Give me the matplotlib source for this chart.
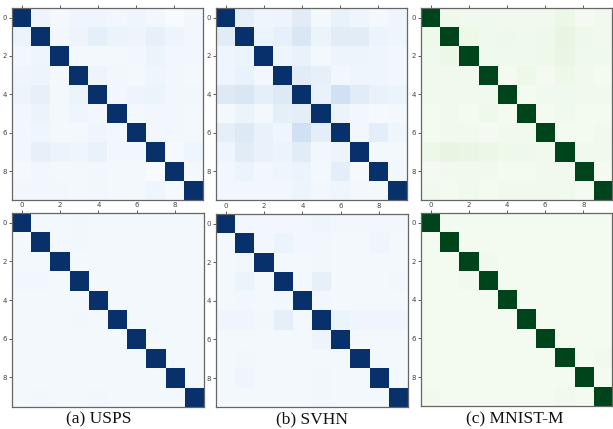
import numpy as np
import matplotlib
matplotlib.use("Agg")
import matplotlib.pyplot as plt

W, H = 613, 429

classes = list(range(10))
tick_labels = ["0", "2", "4", "6", "8"]
captions = ["(a) USPS", "(b) SVHN", "(c) MNIST-M"]

# colour intensities (0..1 on colormap); diagonal = 1
usps_before = [
    [1.00, 0.05, 0.02, 0.04, 0.04, 0.03, 0.04, 0.03, 0.00, 0.03],
    [0.06, 1.00, 0.03, 0.05, 0.09, 0.06, 0.05, 0.08, 0.05, 0.03],
    [0.03, 0.04, 1.00, 0.02, 0.02, 0.02, 0.03, 0.06, 0.03, 0.03],
    [0.04, 0.05, 0.02, 1.00, 0.05, 0.03, 0.02, 0.04, 0.03, 0.02],
    [0.05, 0.08, 0.02, 0.06, 1.00, 0.03, 0.05, 0.06, 0.03, 0.03],
    [0.03, 0.06, 0.02, 0.04, 0.03, 1.00, 0.02, 0.03, 0.03, 0.02],
    [0.03, 0.04, 0.02, 0.02, 0.04, 0.03, 1.00, 0.03, 0.03, 0.02],
    [0.03, 0.08, 0.06, 0.04, 0.07, 0.03, 0.03, 1.00, 0.01, 0.04],
    [0.01, 0.03, 0.02, 0.02, 0.03, 0.02, 0.02, 0.00, 1.00, 0.02],
    [0.03, 0.03, 0.03, 0.02, 0.03, 0.02, 0.02, 0.04, 0.01, 1.00],
]
svhn_before = [
    [1.00, 0.09, 0.04, 0.05, 0.11, 0.02, 0.07, 0.04, 0.02, 0.04],
    [0.11, 1.00, 0.06, 0.08, 0.15, 0.06, 0.11, 0.11, 0.06, 0.04],
    [0.04, 0.06, 1.00, 0.04, 0.07, 0.02, 0.05, 0.05, 0.04, 0.03],
    [0.04, 0.07, 0.03, 1.00, 0.11, 0.08, 0.03, 0.04, 0.04, 0.03],
    [0.13, 0.15, 0.09, 0.13, 1.00, 0.07, 0.20, 0.11, 0.07, 0.06],
    [0.02, 0.06, 0.02, 0.09, 0.10, 1.00, 0.06, 0.03, 0.01, 0.02],
    [0.09, 0.13, 0.07, 0.04, 0.20, 0.10, 1.00, 0.03, 0.10, 0.04],
    [0.04, 0.11, 0.07, 0.06, 0.11, 0.03, 0.05, 1.00, 0.02, 0.02],
    [0.03, 0.06, 0.03, 0.04, 0.06, 0.02, 0.10, 0.01, 1.00, 0.03],
    [0.03, 0.03, 0.03, 0.03, 0.05, 0.03, 0.04, 0.02, 0.02, 1.00],
]
mnistm_before = [
    [1.00, 0.06, 0.05, 0.05, 0.04, 0.04, 0.04, 0.08, 0.02, 0.04],
    [0.06, 1.00, 0.07, 0.05, 0.06, 0.05, 0.06, 0.11, 0.06, 0.04],
    [0.05, 0.08, 1.00, 0.05, 0.05, 0.05, 0.06, 0.09, 0.05, 0.05],
    [0.04, 0.05, 0.04, 1.00, 0.03, 0.07, 0.02, 0.07, 0.04, 0.03],
    [0.04, 0.05, 0.04, 0.04, 1.00, 0.03, 0.05, 0.05, 0.04, 0.05],
    [0.03, 0.04, 0.03, 0.06, 0.03, 1.00, 0.03, 0.05, 0.03, 0.03],
    [0.03, 0.04, 0.04, 0.02, 0.04, 0.04, 1.00, 0.03, 0.03, 0.04],
    [0.07, 0.11, 0.09, 0.08, 0.06, 0.06, 0.04, 1.00, 0.04, 0.05],
    [0.02, 0.04, 0.04, 0.04, 0.03, 0.03, 0.04, 0.04, 1.00, 0.03],
    [0.04, 0.03, 0.05, 0.03, 0.04, 0.04, 0.04, 0.05, 0.02, 1.00],
]
usps_after = [
    [1.00, 0.02, 0.02, 0.03, 0.02, 0.02, 0.02, 0.02, 0.02, 0.02],
    [0.02, 1.00, 0.02, 0.03, 0.02, 0.02, 0.02, 0.02, 0.02, 0.02],
    [0.02, 0.02, 1.00, 0.02, 0.02, 0.02, 0.02, 0.02, 0.02, 0.02],
    [0.03, 0.03, 0.02, 1.00, 0.02, 0.02, 0.02, 0.02, 0.02, 0.02],
    [0.02, 0.02, 0.02, 0.02, 1.00, 0.02, 0.02, 0.02, 0.02, 0.02],
    [0.02, 0.02, 0.02, 0.03, 0.02, 1.00, 0.02, 0.02, 0.02, 0.02],
    [0.02, 0.02, 0.02, 0.02, 0.02, 0.02, 1.00, 0.02, 0.02, 0.02],
    [0.02, 0.02, 0.02, 0.02, 0.02, 0.02, 0.02, 1.00, 0.02, 0.02],
    [0.02, 0.02, 0.02, 0.02, 0.02, 0.02, 0.02, 0.02, 1.00, 0.02],
    [0.02, 0.03, 0.02, 0.02, 0.03, 0.02, 0.02, 0.02, 0.02, 1.00],
]
svhn_after = [
    [1.00, 0.03, 0.03, 0.03, 0.03, 0.04, 0.03, 0.03, 0.03, 0.03],
    [0.02, 1.00, 0.03, 0.06, 0.03, 0.03, 0.02, 0.02, 0.04, 0.02],
    [0.02, 0.03, 1.00, 0.02, 0.02, 0.03, 0.02, 0.02, 0.02, 0.02],
    [0.02, 0.06, 0.02, 1.00, 0.02, 0.08, 0.02, 0.02, 0.02, 0.03],
    [0.02, 0.03, 0.02, 0.03, 1.00, 0.03, 0.02, 0.02, 0.02, 0.02],
    [0.04, 0.04, 0.03, 0.09, 0.02, 1.00, 0.06, 0.04, 0.04, 0.04],
    [0.02, 0.02, 0.02, 0.02, 0.02, 0.05, 1.00, 0.02, 0.02, 0.02],
    [0.02, 0.03, 0.02, 0.02, 0.02, 0.02, 0.02, 1.00, 0.02, 0.02],
    [0.02, 0.04, 0.02, 0.02, 0.02, 0.03, 0.02, 0.02, 1.00, 0.02],
    [0.02, 0.02, 0.02, 0.02, 0.02, 0.03, 0.02, 0.02, 0.02, 1.00],
]
mnistm_after = [
    [1.00, 0.03, 0.03, 0.03, 0.03, 0.03, 0.03, 0.03, 0.03, 0.03],
    [0.03, 1.00, 0.03, 0.03, 0.03, 0.03, 0.03, 0.03, 0.03, 0.03],
    [0.03, 0.03, 1.00, 0.04, 0.03, 0.03, 0.03, 0.03, 0.03, 0.03],
    [0.03, 0.03, 0.04, 1.00, 0.03, 0.03, 0.03, 0.03, 0.03, 0.03],
    [0.03, 0.03, 0.03, 0.03, 1.00, 0.03, 0.03, 0.03, 0.03, 0.03],
    [0.03, 0.03, 0.03, 0.03, 0.03, 1.00, 0.03, 0.03, 0.03, 0.03],
    [0.03, 0.03, 0.03, 0.03, 0.03, 0.03, 1.00, 0.03, 0.03, 0.03],
    [0.03, 0.03, 0.03, 0.03, 0.03, 0.03, 0.03, 1.00, 0.03, 0.04],
    [0.03, 0.03, 0.03, 0.03, 0.03, 0.03, 0.03, 0.03, 1.00, 0.03],
    [0.04, 0.03, 0.03, 0.03, 0.03, 0.03, 0.03, 0.04, 0.03, 1.00],
]

panels = [
    # (data, cmap, left, top, right, bottom, show top labels)
    (usps_before, "Blues", 12, 8, 203, 200, False),
    (svhn_before, "Blues", 216, 8, 407, 200, False),
    (mnistm_before, "Greens", 421, 8, 612, 200, False),
    (usps_after, "Blues", 12, 213, 204, 406.5, True),
    (svhn_after, "Blues", 216, 214, 408, 407, True),
    (mnistm_after, "Greens", 421, 213, 612, 406, True),
]

fig = plt.figure(figsize=(W / 100, H / 100), dpi=100)
fig.patch.set_facecolor("white")

for data, cmap, l, t, r, b, labtop in panels:
    ax = fig.add_axes([l / W, 1 - b / H, (r - l) / W, (b - t) / H])
    ax.imshow(np.array(data), cmap=cmap, vmin=0, vmax=1, aspect="auto",
              interpolation="nearest")
    ax.set_xticks(classes[::2])
    ax.set_yticks(classes[::2])
    ax.set_xticklabels(tick_labels)
    ax.set_yticklabels(tick_labels)
    ax.tick_params(axis="both", labelsize=5, colors="#444444", length=2,
                   width=0.6, pad=1.5)
    ax.tick_params(axis="x", top=True, bottom=False, labeltop=labtop,
                   labelbottom=False)
    for s in ax.spines.values():
        s.set_color("#666666")
        s.set_linewidth(0.9)

cap_x = [99, 312, 515]
for x, c in zip(cap_x, captions):
    fig.text(x / W, 1 - 419 / H, c, ha="center", va="center",
             fontsize=12.5, family="Liberation Serif", color="#111111")

fig.savefig("out.png", dpi=100)
